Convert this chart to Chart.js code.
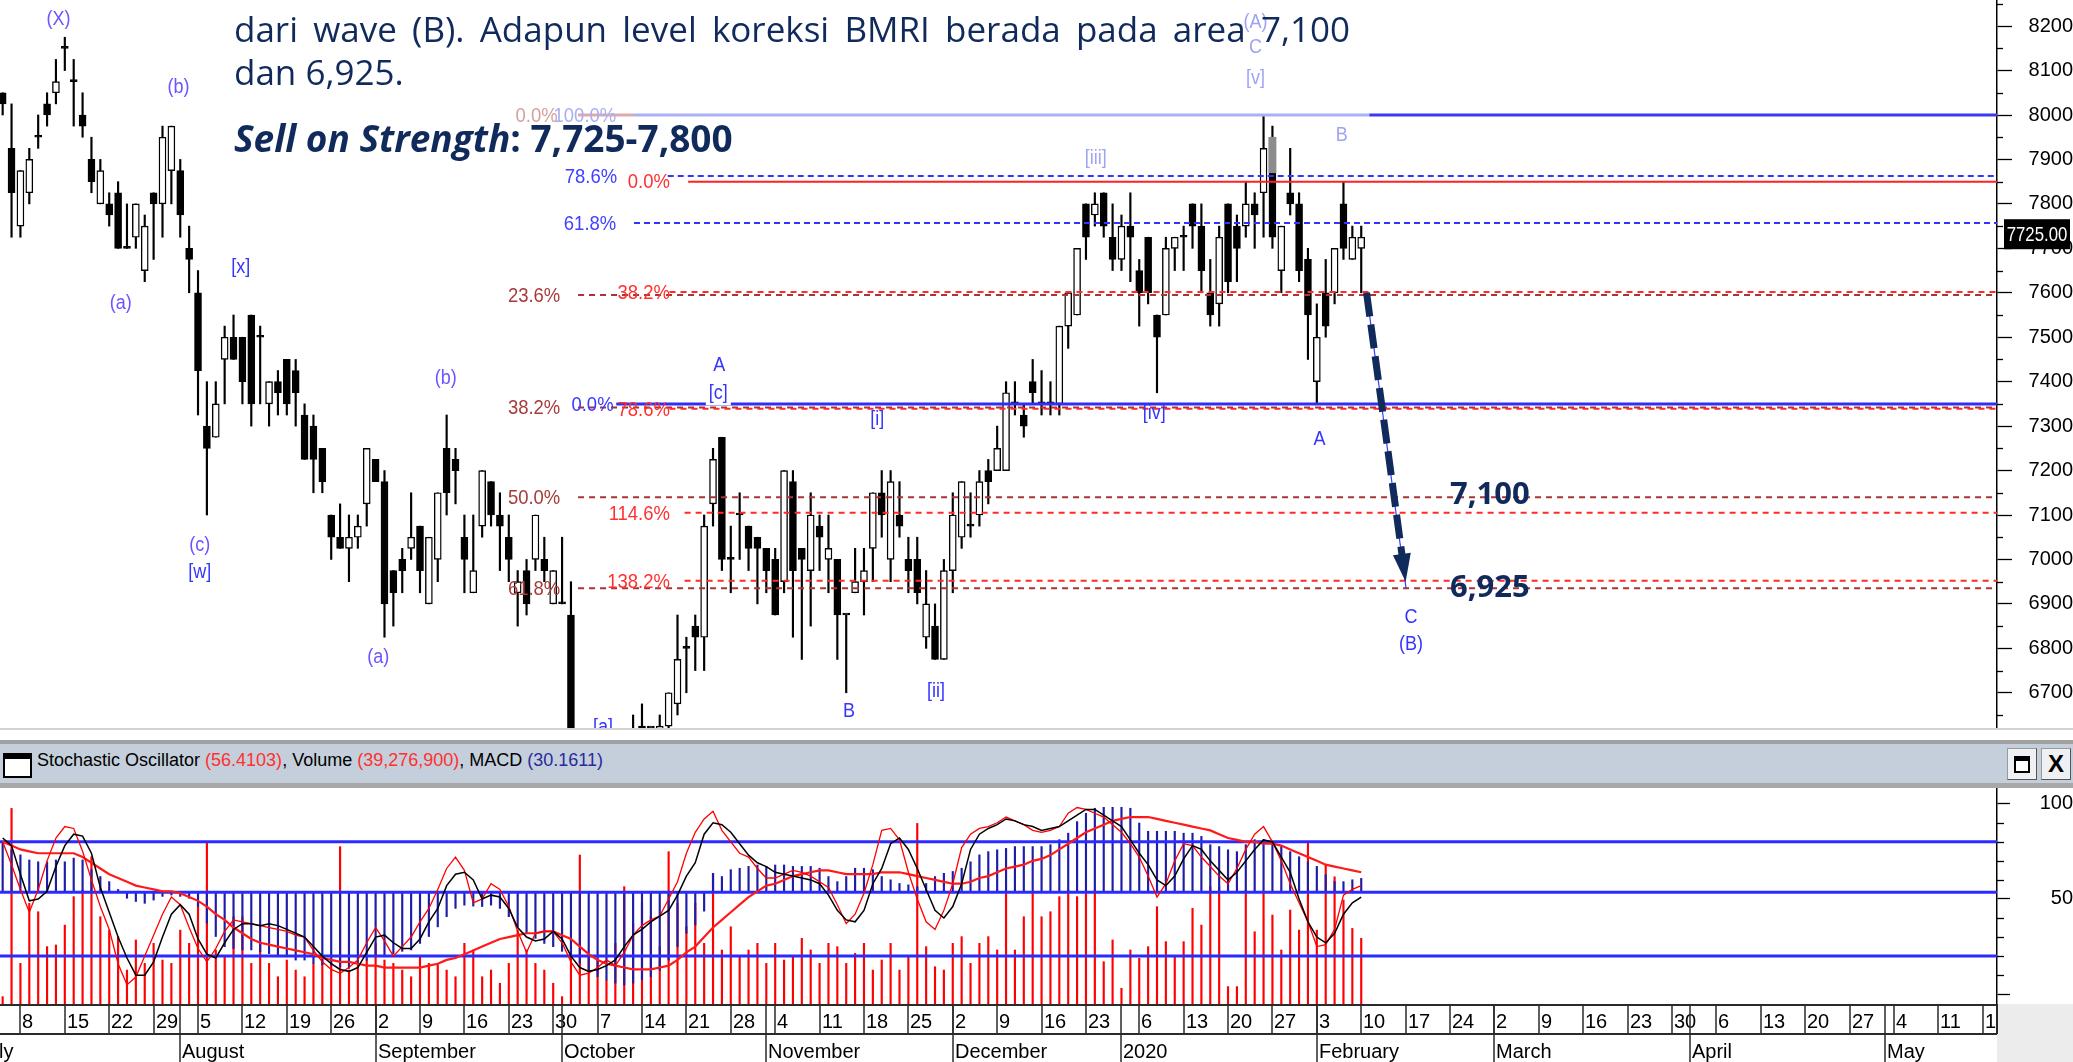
<!DOCTYPE html>
<html lang="id">
<head>
<meta charset="utf-8">
<title>BMRI - Elliott Wave</title>
<script src="https://cdn.jsdelivr.net/npm/chart.js@4.4.1/dist/chart.umd.min.js"></script>
<style>
  html, body { margin: 0; padding: 0; background: #fff; }
  body { position: relative; width: 2073px; height: 1062px; overflow: hidden; font-family: 'Liberation Sans', Arial, sans-serif; }
  canvas { position: absolute; left: 0; }
  #priceChart { top: 0; }
  #indicatorChart { top: 788px; }
  .note { position: absolute; left: 234px; color: #102a5c; font-family: 'Open Sans', 'Noto Sans', sans-serif; z-index: 2; }
  .note.l1 { top: 7px; width: 1116px; font-size: 35px; line-height: 43px; text-align: justify; text-align-last: justify; }
  .note.l2 { top: 50px; font-size: 35px; line-height: 43px; white-space: nowrap; }
  .note.l3 { top: 116px; font-size: 37px; line-height: 43px; font-weight: 700; white-space: nowrap; }
  #panelSep { position: absolute; left: 0; top: 728px; width: 2073px; height: 2px; background: #d2d2d2; }
  #panelHead { position: absolute; left: 0; top: 740px; width: 2073px; height: 39px; background: #c4cfdb;
               border-top: 4px solid #a0a0a0; border-bottom: 5px solid #a8a8a8; }
  #panelHead .icon { position: absolute; left: 3px; top: 9px; width: 25px; height: 17px; background: #fff; border: 2px solid #000; border-top-width: 6px; }
  #panelHead .title { position: absolute; left: 37px; top: 6px; font-size: 18px; line-height: 20px; color: #000; white-space: nowrap; }
  #panelHead .r { color: #ff3030; }
  #panelHead .b { color: #2a2a9c; }
  .btn { position: absolute; top: 4px; width: 28px; height: 30px; background: #eef0f3;
         border: 1px solid #9a9a9a; border-right-color: #555; border-bottom-color: #555; }
  .btn1 { left: 2007px; }
  .btn2 { left: 2041px; font-size: 24px; font-weight: 700; line-height: 30px; text-align: center; }
  .btn1 .mini { position: absolute; left: 6px; top: 7px; width: 12px; height: 10px; border: 2px solid #000; border-top-width: 5px; background: #fff; }
</style>
</head>
<body>
<canvas id="priceChart" width="2073" height="728"></canvas>
<div class="note l1">dari wave (B). Adapun level koreksi BMRI berada pada area 7,100</div>
<div class="note l2">dan 6,925.</div>
<div class="note l3"><i>Sell on Strength</i>: 7,725-7,800</div>
<div id="panelSep"></div>
<div id="panelHead">
  <div class="icon"></div>
  <span class="title">Stochastic Oscillator <span class="r">(56.4103)</span>, Volume <span class="r">(39,276,900)</span>, MACD <span class="b">(30.1611)</span></span>
  <div class="btn btn1"><div class="mini"></div></div>
  <div class="btn btn2">X</div>
</div>
<canvas id="indicatorChart" width="2073" height="274"></canvas>

<script>
// ---- daily candles, 4 Jul 2019 .. 10 Feb 2020 (one entry per trading day) ----
const opens = [8050,7925,7750,7825,7950,8025,8050,8150,8075,8000, 7900,7800,7800,7825,7700,7725,7650,7825,7800,7875,
  7875,7700,7600,7300,7275,7450,7500,7500,7550,7500, 7350,7400,7450,7425,7325,7300,7250,7100,7050,7025,
  7050,7125,7225,7175,6975,7000,7025,7075,6900,7000, 7250,7225,7050,6925,7075,7175,7100,7050,6925,6975,
  7000,7000,6900,6900,6875,6550,6475,6450,6525,6475, 6525,6575,6625,6575,6575,6625,6675,6800,6850,6825,
  7125,7275,7000,7100,7075,7050,7025,7000,6950,7175, 7025,6975,7075,7000,7000,6875,6925,6950,7025,7150,
  7000,7100,7000,7000,6825,6850,6775,6975,7050,7075, 7100,7200,7200,7200,7350,7325,7400,7350,7350,7350,
  7525,7550,7800,7775,7825,7725,7675,7750,7650,7725, 7550,7550,7700,7725,7800,7750,7600,7575,7800,7750,
  7750,7800,7825,7950,7650,7825,7800,7675,7400,7600, 7600,7800,7675,7700];
const highs = [8050,8025,7875,7925,8000,8050,8125,8175,8125,8050, 7950,7900,7825,7850,7800,7800,7775,7825,7975,7975,
  7900,7750,7650,7400,7400,7525,7550,7500,7550,7525, 7400,7425,7450,7450,7350,7325,7250,7100,7125,7100,
  7100,7250,7225,7200,6975,7025,7150,7075,7050,7150, 7325,7250,7100,7100,7200,7175,7150,7100,6975,7000,
  7100,7050,6975,7050,6950,6600,6525,6550,6575,6550, 6600,6650,6675,6600,6650,6700,6875,6825,6875,7100,
  7250,7275,7075,7150,7075,7050,7025,7025,7200,7200, 7025,7150,7100,7100,7000,6875,7025,7025,7150,7200,
  7200,7175,7050,7050,6975,6900,7000,7150,7175,7150, 7200,7225,7300,7400,7400,7350,7450,7425,7400,7525,
  7600,7700,7800,7825,7825,7800,7775,7825,7675,7725, 7550,7725,7725,7750,7800,7800,7675,7750,7800,7775,
  7850,7825,8000,7975,7750,7925,7825,7700,7575,7675, 7700,7850,7750,7750];
const lows = [8000,7725,7725,7800,7925,7975,8025,8100,7975,7950, 7825,7800,7750,7700,7700,7700,7625,7675,7725,7800,
  7725,7600,7325,7100,7275,7350,7450,7350,7300,7350, 7300,7325,7325,7300,7225,7150,7150,7000,7025,6950,
  7025,7075,7175,6825,6850,6925,7000,6925,6900,6950, 7100,7125,6925,6925,7050,7075,6975,6950,6850,6875,
  6975,6950,6900,6900,6525,6450,6400,6425,6450,6425, 6475,6550,6550,6525,6550,6600,6650,6700,6750,6750,
  7075,6975,6925,7000,6975,6900,6925,6875,6925,6825, 6775,6850,6975,6925,6775,6700,6925,6875,6950,7050,
  6950,7050,6925,6900,6800,6775,6775,6925,7025,7050, 7075,7125,7200,7200,7325,7275,7350,7325,7325,7325,
  7475,7550,7675,7750,7725,7650,7650,7625,7525,7575, 7375,7550,7650,7650,7700,7600,7525,7525,7600,7625,
  7725,7700,7725,7700,7600,7775,7625,7450,7350,7500, 7575,7675,7675,7600];
const closes = [8025,7825,7875,7900,7950,8000,8075,8150,8075,7975, 7850,7875,7775,7700,7700,7800,7750,7800,7950,7975,
  7775,7675,7425,7250,7350,7500,7450,7400,7350,7500, 7400,7375,7350,7375,7225,7225,7175,7050,7025,7050,
  7075,7250,7175,6900,6925,6975,7050,6975,7050,7150, 7150,7200,7000,6975,7200,7100,7075,7000,6950,6900,
  7100,6975,6975,6900,6550,6475,6450,6525,6475,6525, 6575,6600,6575,6575,6625,6700,6775,6800,6825,7075,
  7225,7000,7000,7100,7025,7025,6975,6875,7200,6975, 7000,7100,7050,7025,6875,6875,6950,6975,7150,7100,
  7175,7075,6975,6925,6900,6775,6975,7100,7175,7075, 7175,7175,7250,7375,7350,7300,7375,7350,7350,7525,
  7600,7700,7725,7800,7750,7675,7750,7725,7600,7600, 7500,7700,7725,7725,7750,7650,7550,7725,7625,7700,
  7800,7775,7925,7725,7750,7800,7650,7550,7500,7525, 7700,7700,7725,7725];

// ---- lower panel series ----
const stochK = [82,78,63,49,50,54,67,78,84,83, 74,56,43,30,19,10,10,17,30,42, 47,42,29,21,19,27,34,37,37,36,
  37,36,34,32,30,25,20,16,13,12, 14,22,30,31,27,24,24,29,38,45, 57,63,64,60,50,52,51,45,35,30,
  28,29,33,29,20,14,12,13,15,18, 25,31,34,38,41,44,52,62,69,84, 90,89,85,79,73,69,67,64,63,62,
  61,60,58,52,44,39,38,44,58,66, 79,82,76,66,55,44,40,46,58,76, 84,87,89,92,91,89,88,86,87,88,
  91,94,97,97,94,91,88,81,74,68, 60,57,62,71,78,76,70,65,60,64, 70,76,81,80,72,64,50,38,30,27, 32,42,48,51];
const stochFast = [80,68,55,43,55,70,82,88,87,75, 60,46,34,16,5,9,20,31,42,51, 47,35,24,17,24,33,39,38,37,36,
  35,34,33,31,30,23,17,13,11,14, 18,27,35,28,20,25,30,38,45,55, 66,72,65,48,50,58,55,46,33,22,
  32,33,33,27,17,10,11,14,18,15, 22,31,36,39,41,50,59,74,85,92, 96,86,80,74,72,66,61,61,63,65,
  64,62,59,56,47,37,42,53,68,86, 87,81,64,50,38,34,44,58,77,84, 87,88,90,93,91,89,86,85,86,88,
  95,98,97,95,93,89,85,79,72,62, 51,58,70,79,78,72,67,62,58,66, 76,84,88,80,70,58,48,38,25,26, 34,52,55,57];
const stochSlow = [80,78,76,75,74,74,74,74,74,72, 69,66,63,61,59,57,56,55,54,54, 53,51,49,46,42,39,35,32,29,27,
  26,25,24,23,22,21,19,18,17,17, 16,15,15,14,14,14,14,14,15,16, 18,19,21,23,25,27,29,30,31,32,
  32,33,33,31,29,25,21,18,16,15, 14,13,13,13,14,15,18,22,25,30, 35,39,43,47,51,54,57,58,60,62,
  63,64,65,65,64,63,63,63,63,64, 64,64,63,62,61,60,59,58,58,59, 61,62,64,66,67,68,70,71,73,76,
  79,82,85,87,89,91,92,93,93,93, 92,91,90,89,88,87,86,84,82,81, 80,80,79,79,78,76,74,72,70,68, 67,66,65,64];
const macdVals = [110,92,81,70,66,66,70,66,74,70, 49,34,23,6,-13,-20,-24,-17,-9,-6,
  -9,-13,-31,-67,-96,-118,-122,-125,-125,-129, -133,-136,-140,-147,-147,-154,-157,-158,-161,-165,
  -154,-147,-140,-140,-133,-128,-125,-111,-96,-75, -53,-35,-28,-30,-31,-28,-35,-53,-75,-89,
  -100,-111,-118,-128,-140,-154,-169,-183,-190,-197, -201,-197,-190,-183,-169,-147,-118,-89,-71,-41,
  41,34,49,52,56,59,56,59,59,56, 56,56,52,34,23,34,52,52,49,34, 27,19,16,12,19,34,41,45,52,66,
  81,88,92,95,99,99,99,99,103,114, 128,153,171,182,184,184,184,182,150,132, 132,132,132,128,128,121,103,99,92,88,
  103,114,114,110,99,88,77,66,56,38, 23,23,27,30];
const volumeM = [4.4,117.0,24.3,60.2,55.2,34.3,35.3,47.2,64.2,68.2, 88.1,52.2,44.2,40.3,20.3,38.3,24.3,36.3,26.3,24.3,
  44.2,36.3,60.2,96.1,32.3,28.3,52.2,52.2,24.3,36.3, 24.3,16.3,26.3,20.3,16.3,24.3,26.3,24.3,94.1,20.3,
  24.3,26.3,36.3,26.3,24.3,20.3,16.3,28.3,24.3,24.3, 20.3,16.3,36.3,32.3,16.3,20.3,12.4,24.3,44.2,32.3,
  24.3,20.3,12.4,4.4,32.3,89.1,28.3,26.3,14.3,36.3, 70.2,48.2,60.2,52.2,34.3,91.1,60.2,46.2,60.2,36.3,
  78.1,32.3,46.2,28.3,32.3,36.3,24.3,36.3,26.3,28.3, 39.3,32.3,24.3,36.3,34.3,24.3,30.3,36.3,20.3,26.3,
  36.3,20.3,28.3,108.0,34.3,22.3,20.3,36.3,40.3,24.3, 36.3,40.3,32.3,66.2,32.3,52.2,66.2,52.2,55.2,64.2,
  68.2,64.2,66.2,68.2,25.3,38.3,9.4,32.3,27.3,34.3, 58.2,37.3,28.3,37.3,57.2,47.2,70.2,70.2,10.4,10.4,
  68.2,43.2,66.2,53.2,32.3,56.2,44.2,96.1,44.2,83.1, 76.1,62.2,45.2,39.3];
const stochLevels = [80, 20];

// ---- date axis (trading-day index of each tick) ----
const weekTickIdx = [2,7,12,17,22,27,32,37,42,47,52,57,62,67,72,77,82,87,92,97,102,107,112,117,122,
  128,133,138,143,148,153,158,163,168,173,178,183,188,193,198,203,208,213,218,223];
const weekTickLabels = ['8','15','22','29','5','12','19','26','2','9','16','23','30','7','14','21','28','4','11','18','25',
  '2','9','16','23','6','13','20','27','3','10','17','24','2','9','16','23','30','6','13','20','27','4','11','18'];
const monthIdx = [-3,20,42,63,86,107,126,148,168,190,212];
const monthLabels = ['July','August','September','October','November','December','2020','February','March','April','May'];

// ---- drawn studies: fibonacci levels, wave counts, projection ----
const fibLevels = [
  { p: 8000, from: 64.8, to: 71.1, color: '#d9abab', dash: [], w: 3 },
  { p: 8000, from: 71.1, to: 153.9, color: '#aab0f6', dash: [], w: 3 },
  { p: 8000, from: 153.9, color: '#3a3af2', dash: [], w: 3 },
  { p: 7595, from: 64.8, color: '#a83434', dash: [6, 5], w: 2 },
  { p: 7342, from: 64.8, color: '#a83434', dash: [6, 5], w: 2 },
  { p: 7140, from: 64.8, color: '#a83434', dash: [6, 5], w: 2 },
  { p: 6935, from: 64.8, color: '#a83434', dash: [6, 5], w: 2 },
  { p: 7863, from: 74.9, color: '#3434ff', dash: [6, 4], w: 2 },
  { p: 7757, from: 71.1, color: '#3434ff', dash: [6, 4], w: 2 },
  { p: 7350, from: 69.1, color: '#2f2ff5', dash: [], w: 3 },
  { p: 7850, from: 77.2, color: '#ff2020', dash: [], w: 2 },
  { p: 7602, from: 75.1, color: '#ff2a2a', dash: [6, 5], w: 2 },
  { p: 7339, from: 75.1, color: '#ff2a2a', dash: [6, 5], w: 2 },
  { p: 7105, from: 76.8, color: '#ff2a2a', dash: [6, 5], w: 2 },
  { p: 6952, from: 76.8, color: '#ff2a2a', dash: [6, 5], w: 2 }
];
const fibLabels = [
  { t: '0.0%', p: 8000, at: 62.5, c: '#d6a0a0' },
  { t: '100.0%', p: 8000, at: 69.1, c: '#a9aef5' },
  { t: '78.6%', p: 7863, at: 69.2, c: '#4040ff' },
  { t: '0.0%', p: 7850, at: 75.15, c: '#ff3030' },
  { t: '61.8%', p: 7757, at: 69.1, c: '#4040ff' },
  { t: '23.6%', p: 7595, at: 62.8, c: '#a83a3a' },
  { t: '38.2%', p: 7602, at: 75.15, c: '#ff3030' },
  { t: '38.2%', p: 7342, at: 62.8, c: '#a83a3a' },
  { t: '0.0%', p: 7350, at: 68.8, c: '#3a3aff' },
  { t: '78.6%', p: 7339, at: 75.15, c: '#ff3030' },
  { t: '50.0%', p: 7140, at: 62.8, c: '#a83a3a' },
  { t: '114.6%', p: 7105, at: 75.15, c: '#ff3030' },
  { t: '138.2%', p: 6952, at: 75.15, c: '#ff3030' },
  { t: '61.8%', p: 6935, at: 62.8, c: '#a83a3a' }
];
const VIOLET = '#6a55ff', BLUE = '#3535ff', FADED = '#9ea4f2';
const waveLabels = [
  { t: '(X)', i: 6.3, p: 8216, c: VIOLET }, { t: '(b)', i: 19.8, p: 8063, c: VIOLET },
  { t: '(a)', i: 13.3, p: 7577, c: VIOLET }, { t: '[x]', i: 26.8, p: 7656, c: BLUE },
  { t: '(c)', i: 22.2, p: 7032, c: VIOLET }, { t: '[w]', i: 22.2, p: 6970, c: BLUE },
  { t: '(b)', i: 49.9, p: 7408, c: VIOLET }, { t: '(a)', i: 42.3, p: 6780, c: VIOLET },
  { t: '[a]', i: 67.6, p: 6623, c: BLUE }, { t: 'A', i: 80.7, p: 7437, c: BLUE },
  { t: '[c]', i: 80.6, p: 7374, c: BLUE, bg: true }, { t: '[i]', i: 98.5, p: 7314, c: BLUE },
  { t: 'B', i: 95.3, p: 6657, c: BLUE }, { t: '[ii]', i: 105.1, p: 6702, c: BLUE },
  { t: '[iii]', i: 123.1, p: 7903, c: FADED }, { t: '[iv]', i: 129.7, p: 7329, c: BLUE },
  { t: '(A)', i: 141.1, p: 8209, c: FADED }, { t: 'C', i: 141.1, p: 8151, c: FADED },
  { t: '[v]', i: 141.1, p: 8083, c: FADED }, { t: 'B', i: 150.8, p: 7955, c: FADED },
  { t: 'A', i: 148.3, p: 7269, c: BLUE }, { t: 'C', i: 158.6, p: 6870, c: BLUE },
  { t: '(B)', i: 158.6, p: 6808, c: BLUE }
];
const targetLabels = [{ t: '7,100', i: 163.0, p: 7145 }, { t: '6,925', i: 163.0, p: 6936 }];
const arrowFrom = { x: 153.6, y: 7600 };
const arrowTo = { x: 158.0, y: 6950 };
const guideEnd = { x: 158.05, y: 6935 };
const hiliteIdx = 143, hiliteFrom = 7870;

const X_MIN = -0.3, X_MAX = 224.6;
const NAVY = '#102a5c';
const AXIS_FONT = '"Liberation Sans", Arial, sans-serif';

const arrowBase = {
  x: arrowTo.x - (arrowTo.x - arrowFrom.x) * 0.08,
  y: arrowTo.y - (arrowTo.y - arrowFrom.y) * 0.08
};

// text squeezed horizontally, like the chart program's condensed labels
function narrowText(ctx, text, px, py, sx) {
  ctx.save();
  ctx.translate(px, py);
  ctx.scale(sx, 1);
  ctx.fillText(text, 0, 0);
  ctx.restore();
}

const minorTicks = {
  id: 'minorTicks',
  afterDraw(chart, args, opts) {
    const { ctx, chartArea: a } = chart;
    const s = chart.scales[opts.axis];
    ctx.save();
    ctx.strokeStyle = '#000';
    ctx.lineWidth = 1.3;
    opts.values.forEach(v => {
      const py = Math.round(s.getPixelForValue(v)) + 0.5;
      ctx.beginPath();
      ctx.moveTo(a.right, py);
      ctx.lineTo(a.right + opts.len, py);
      ctx.stroke();
    });
    ctx.restore();
  }
};

const priceOverlay = {
  id: 'priceOverlay',
  afterDatasetsDraw(chart) {
    const { ctx, chartArea: a, scales: { x, y } } = chart;
    ctx.save();
    ctx.beginPath();
    ctx.rect(a.left, a.top, a.right - a.left, a.bottom - a.top);
    ctx.clip();

    // arrow head
    const p0x = x.getPixelForValue(arrowFrom.x), p0y = y.getPixelForValue(arrowFrom.y);
    const p1x = x.getPixelForValue(arrowTo.x), p1y = y.getPixelForValue(arrowTo.y);
    const len = Math.hypot(p1x - p0x, p1y - p0y);
    const ux = (p1x - p0x) / len, uy = (p1y - p0y) / len;
    const bx = p1x - ux * 28, by = p1y - uy * 28;
    ctx.fillStyle = NAVY;
    ctx.beginPath();
    ctx.moveTo(p1x, p1y);
    ctx.lineTo(bx - uy * 9, by + ux * 9);
    ctx.lineTo(bx + uy * 9, by - ux * 9);
    ctx.closePath();
    ctx.fill();

    // fibonacci labels
    ctx.font = '21px ' + AXIS_FONT;
    ctx.textAlign = 'right';
    ctx.textBaseline = 'middle';
    fibLabels.forEach(l => {
      ctx.fillStyle = l.c;
      narrowText(ctx, l.t, x.getPixelForValue(l.at), y.getPixelForValue(l.p) + 1, 0.88);
    });

    // wave counts
    ctx.font = '20px ' + AXIS_FONT;
    ctx.textAlign = 'center';
    waveLabels.forEach(l => {
      const px = x.getPixelForValue(l.i), py = y.getPixelForValue(l.p);
      if (l.bg) {
        const w = ctx.measureText(l.t).width * 0.9 + 6;
        ctx.fillStyle = '#fff';
        ctx.fillRect(px - w / 2, py - 12, w, 24);
      }
      ctx.fillStyle = l.c;
      narrowText(ctx, l.t, px, py, 0.9);
    });

    // target levels
    ctx.font = 'bold 31px "Open Sans", "Noto Sans", sans-serif';
    ctx.textAlign = 'left';
    ctx.fillStyle = NAVY;
    targetLabels.forEach(l => ctx.fillText(l.t, x.getPixelForValue(l.i), y.getPixelForValue(l.p)));
    ctx.restore();
  },
  afterDraw(chart) {
    const { ctx, chartArea: a, scales: { y } } = chart;
    const last = closes[closes.length - 1];
    const py = y.getPixelForValue(last) - 3;
    ctx.save();
    ctx.fillStyle = '#000';
    ctx.fillRect(a.right + 7, py - 15, 66, 30);
    ctx.fillStyle = '#fff';
    ctx.font = '21px ' + AXIS_FONT;
    ctx.textAlign = 'center';
    ctx.textBaseline = 'middle';
    narrowText(ctx, last.toFixed(2), a.right + 40, py + 1, 0.8);
    ctx.restore();
  }
};

const dateAxis = {
  id: 'dateAxis',
  afterDraw(chart) {
    const { ctx, chartArea: a, scales: { x } } = chart;
    const top = a.bottom, mid = a.bottom + 30, bot = chart.height;
    ctx.save();
    ctx.fillStyle = '#ececec';
    ctx.fillRect(a.right, top, chart.width - a.right, bot - top);
    ctx.strokeStyle = '#2a2a2a';
    ctx.lineWidth = 2;
    ctx.beginPath();
    ctx.moveTo(0, top + 1); ctx.lineTo(a.right, top + 1);
    ctx.moveTo(0, mid); ctx.lineTo(a.right, mid);
    ctx.moveTo(a.right, top); ctx.lineTo(a.right, mid);
    ctx.stroke();

    ctx.beginPath();
    ctx.rect(0, top, a.right, bot - top);
    ctx.clip();
    ctx.font = '20px ' + AXIS_FONT;
    ctx.fillStyle = '#000';
    ctx.textAlign = 'left';
    ctx.textBaseline = 'alphabetic';
    ctx.lineWidth = 1.5;
    weekTickIdx.forEach((idx, k) => {
      const px = Math.round(x.getPixelForValue(idx));
      ctx.beginPath(); ctx.moveTo(px, top); ctx.lineTo(px, mid); ctx.stroke();
      ctx.fillText(weekTickLabels[k], px + 2, top + 24);
    });
    monthIdx.forEach((idx, k) => {
      const px = Math.round(x.getPixelForValue(idx));
      ctx.beginPath(); ctx.moveTo(px, top); ctx.lineTo(px, bot); ctx.stroke();
      ctx.fillText(monthLabels[k], px + 2, bot - 4);
    });
    ctx.restore();
  }
};

const axisFit = (width) => (s) => { s.width = width; s.paddingTop = 0; s.paddingBottom = 0; };

// ---- price panel ----
new Chart(document.getElementById('priceChart'), {
  type: 'bar',
  data: {
    datasets: [
      {
        label: 'Wick',
        data: highs.map((h, i) => ({ x: i, y: [lows[i], h] })),
        backgroundColor: '#000', barThickness: 1.5, grouped: false, order: 30
      },
      {
        label: 'Body',
        data: opens.map((o, i) => ({ x: i, y: [Math.min(o, closes[i]), Math.max(o, closes[i])] })),
        backgroundColor: c => closes[c.dataIndex] > opens[c.dataIndex] ? '#fff' : '#000',
        borderColor: '#000', borderWidth: 1.4, borderSkipped: false,
        barThickness: 7, minBarLength: 2, grouped: false, order: 29
      },
      {
        label: 'Selected',
        data: [{ x: hiliteIdx, y: [hiliteFrom, opens[hiliteIdx]] }],
        backgroundColor: '#8c8c8c', barThickness: 7, grouped: false, order: 28
      },
      ...fibLevels.map(f => ({
        type: 'line',
        data: [{ x: f.from, y: f.p }, { x: f.to ?? X_MAX, y: f.p }],
        borderColor: f.color, borderWidth: f.w, borderDash: f.dash,
        pointRadius: 0,
        order: f.color === '#a83434' ? 12 : (f.color.startsWith('#ff') ? 10 : 11)
      })),
      {
        type: 'line', label: 'Guide',
        data: [arrowFrom, guideEnd],
        borderColor: '#3b3bff', borderWidth: 1.2, pointRadius: 0, order: 3
      },
      {
        type: 'line', label: 'Projection',
        data: [arrowFrom, arrowBase],
        borderColor: NAVY, borderWidth: 7, borderDash: [24, 8], pointRadius: 0, order: 2
      }
    ]
  },
  options: {
    responsive: false, animation: false, events: [], devicePixelRatio: 1,
    layout: { padding: 0 },
    plugins: {
      legend: { display: false }, tooltip: { enabled: false },
      minorTicks: { axis: 'y', len: 6, values: [6650,6750,6850,6950,7050,7150,7250,7350,7450,7550,7650,7750,7850,7950,8050,8150,8250] }
    },
    scales: {
      x: { type: 'linear', min: X_MIN, max: X_MAX, offset: false, display: false, grid: { offset: false } },
      y: {
        position: 'right', min: 6620.75, max: 8258.75,
        grid: { drawOnChartArea: false, tickLength: 15, tickColor: '#000', tickWidth: 1.3 },
        border: { display: true, color: '#000', width: 1.5 },
        ticks: {
          stepSize: 100, includeBounds: false, padding: 12, crossAlign: 'far', color: '#000',
          font: { family: AXIS_FONT, size: 20 }, callback: v => String(v)
        },
        afterFit: axisFit(76)
      }
    }
  },
  plugins: [priceOverlay, minorTicks]
});

// ---- stochastic / volume / MACD panel ----
const xy = arr => arr.map((v, i) => ({ x: i, y: v }));
new Chart(document.getElementById('indicatorChart'), {
  type: 'bar',
  data: {
    datasets: [
      { type: 'line', label: 'Stoch %D', data: xy(stochK), borderColor: '#000', borderWidth: 1.5, pointRadius: 0, yAxisID: 'y', order: 1 },
      { type: 'line', label: 'Stoch %K', data: xy(stochFast), borderColor: '#ff0000', borderWidth: 1.3, pointRadius: 0, yAxisID: 'y', order: 2 },
      { type: 'line', label: 'Slow', data: xy(stochSlow), borderColor: '#ff1a1a', borderWidth: 2.2, pointRadius: 0, yAxisID: 'y', order: 3 },
      ...stochLevels.map(v => ({
        type: 'line', data: [{ x: X_MIN, y: v }, { x: X_MAX, y: v }],
        borderColor: '#2b2bff', borderWidth: 3, pointRadius: 0, yAxisID: 'y', order: 4
      })),
      { type: 'line', label: 'MACD zero', data: [{ x: X_MIN, y: 0 }, { x: X_MAX, y: 0 }],
        borderColor: '#2b2bff', borderWidth: 3, pointRadius: 0, yAxisID: 'ym', order: 4 },
      { label: 'MACD', data: macdVals.map((v, i) => ({ x: i, y: [0, v] })), yAxisID: 'ym',
        backgroundColor: '#1d1da8', barThickness: 1.5, grouped: false, order: 5 },
      { label: 'Volume', data: xy(volumeM), yAxisID: 'yv',
        backgroundColor: '#ff0000', barThickness: 1.5, grouped: false, order: 6 }
    ]
  },
  options: {
    responsive: false, animation: false, events: [], devicePixelRatio: 1,
    layout: { padding: { top: 0, left: 0, right: 0, bottom: 58 } },
    plugins: {
      legend: { display: false }, tooltip: { enabled: false },
      minorTicks: { axis: 'y', len: 7, values: [10,20,30,40,60,70,80,90] }
    },
    scales: {
      x: { type: 'linear', min: X_MIN, max: X_MAX, offset: false, display: false, grid: { offset: false } },
      y: {
        position: 'right', min: -5.14, max: 108.24,
        grid: { drawOnChartArea: false, tickLength: 13, tickColor: '#000', tickWidth: 1.3 },
        border: { display: true, color: '#000', width: 1.5 },
        ticks: {
          stepSize: 50, includeBounds: false, padding: 27, crossAlign: 'far', color: '#000',
          font: { family: AXIS_FONT, size: 20 }, callback: v => (v === 0 ? '' : String(v))
        },
        afterFit: axisFit(76)
      },
      ym: { display: false, min: -242.2, max: 225.9 },
      yv: { display: false, min: 0, max: 129.2 }
    }
  },
  plugins: [dateAxis, minorTicks]
});
</script>
</body>
</html>
